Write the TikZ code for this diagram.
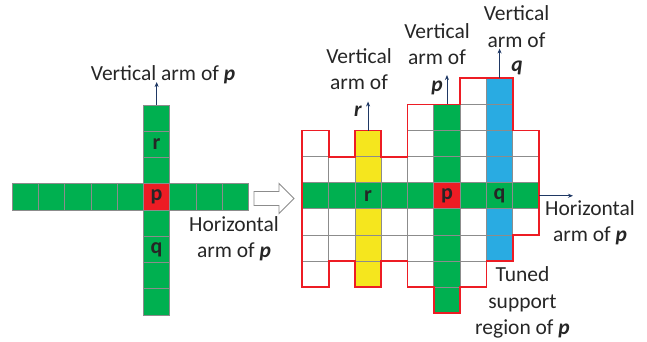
\documentclass[tikz,border=0pt]{standalone}
\usepackage{fontspec}
\setmainfont{Carlito}
\usetikzlibrary{arrows.meta}
\definecolor{cgreen}{HTML}{00B050}
\definecolor{cred}{HTML}{ED1C24}
\definecolor{cyellow}{HTML}{F5E61E}
\definecolor{cblue}{HTML}{29ABE2}
\definecolor{cnavy}{HTML}{1F3864}
\definecolor{ctext}{HTML}{262626}
\definecolor{cgrid}{HTML}{8C8C8C}
\begin{document}
\begin{tikzpicture}[x=1pt,y=-1pt,
  gridcell/.style={draw=cgrid,line width=0.8pt},
  lbl/.style={text=ctext,font=\fontsize{21.5}{26.3}\selectfont,align=center,inner sep=0pt,anchor=base},
  celllbl/.style={text=ctext,font=\fontsize{22}{26}\selectfont\bfseries,inner sep=0pt},
  armarrow/.style={draw=cnavy,line width=0.9pt,-{Stealth[length=5pt,width=4pt]}},
  outline/.style={draw=cred,line width=1.8pt,line join=miter},
  hollow/.style={draw=cgrid,line width=0.9pt,fill=white}]
\useasboundingbox (0,0) rectangle (647,341);
% ---------- left cross ----------
\def\LX{12}\def\LW{26.3}\def\LY{105}\def\LH{26.25}
\foreach \i in {0,...,8}{
  \path[gridcell,fill=cgreen] ({\LX+\LW*\i},{\LY+3*\LH}) rectangle ++(\LW,\LH);
}
\foreach \j in {0,1,2,4,5,6,7}{
  \path[gridcell,fill=cgreen] ({\LX+5*\LW},{\LY+\LH*\j}) rectangle ++(\LW,\LH);
}
\path[gridcell,fill=cred] ({\LX+5*\LW},{\LY+3*\LH}) rectangle ++(\LW,\LH);
\node[celllbl] (lr) at ({\LX+5.5*\LW},{\LY+1.5*\LH}) {r};
\node[celllbl] (lp) at ({\LX+5.5*\LW},{\LY+3.5*\LH}) {p};
\node[celllbl] (lq) at ({\LX+5.5*\LW},{\LY+5.5*\LH}) {q};
\coordinate (lvtop) at ({\LX+5.5*\LW},\LY);
\coordinate (lvtip) at ({\LX+5.5*\LW},82);
\draw[armarrow] (lvtop) -- (lvtip);
\node[lbl] (lvlab) at (163,80.7) {Vertical arm of \textbf{\itshape p}};
\node[lbl] (lhlab) at (234,257.7) {Horizontal\\arm of \textbf{\itshape p}};
% ---------- hollow arrow ----------
\path[hollow] (254,191.5) -- (279,191.5) -- (279,183.5) -- (294,198.5)
  -- (279,213.5) -- (279,205.5) -- (254,205.5) -- cycle;
% ---------- right grid ----------
\def\RX{302.3}\def\RW{26.3}\def\RY{78.3}\def\RH{26.1}
\foreach \c/\a/\b in {0/2/7,1/3/6,2/2/7,3/3/6,4/1/7,5/1/8,6/0/7,7/0/6,8/2/5}{
  \foreach \r in {\a,...,\b}{
    \path[gridcell,fill=white] ({\RX+\RW*\c},{\RY+\RH*\r}) rectangle ++(\RW,\RH);
  }
}
\foreach \r in {2,3,5,6,7}{
  \path[gridcell,fill=cyellow] ({\RX+2*\RW},{\RY+\RH*\r}) rectangle ++(\RW,\RH);
}
\foreach \r in {1,2,3,5,6,7,8}{
  \path[gridcell,fill=cgreen] ({\RX+5*\RW},{\RY+\RH*\r}) rectangle ++(\RW,\RH);
}
\foreach \r in {0,1,2,3,5,6}{
  \path[gridcell,fill=cblue] ({\RX+7*\RW},{\RY+\RH*\r}) rectangle ++(\RW,\RH);
}
\foreach \c in {0,1,2,3,4,6,7,8}{
  \path[gridcell,fill=cgreen] ({\RX+\RW*\c},{\RY+4*\RH}) rectangle ++(\RW,\RH);
}
\path[gridcell,fill=cred] ({\RX+5*\RW},{\RY+4*\RH}) rectangle ++(\RW,\RH);
% red outline (tuned support region)
\draw[outline]
  ({\RX+0*\RW},{\RY+2*\RH}) -- ({\RX+1*\RW},{\RY+2*\RH}) -- ({\RX+1*\RW},{\RY+3*\RH})
  -- ({\RX+2*\RW},{\RY+3*\RH}) -- ({\RX+2*\RW},{\RY+2*\RH}) -- ({\RX+3*\RW},{\RY+2*\RH})
  -- ({\RX+3*\RW},{\RY+3*\RH}) -- ({\RX+4*\RW},{\RY+3*\RH}) -- ({\RX+4*\RW},{\RY+1*\RH})
  -- ({\RX+6*\RW},{\RY+1*\RH}) -- ({\RX+6*\RW},{\RY+0*\RH}) -- ({\RX+8*\RW},{\RY+0*\RH})
  -- ({\RX+8*\RW},{\RY+2*\RH}) -- ({\RX+9*\RW},{\RY+2*\RH}) -- ({\RX+9*\RW},{\RY+6*\RH})
  -- ({\RX+8*\RW},{\RY+6*\RH}) -- ({\RX+8*\RW},{\RY+7*\RH}) -- ({\RX+7*\RW},{\RY+7*\RH})
  -- ({\RX+7*\RW},{\RY+8*\RH}) -- ({\RX+6*\RW},{\RY+8*\RH}) -- ({\RX+6*\RW},{\RY+9*\RH})
  -- ({\RX+5*\RW},{\RY+9*\RH}) -- ({\RX+5*\RW},{\RY+8*\RH}) -- ({\RX+4*\RW},{\RY+8*\RH})
  -- ({\RX+4*\RW},{\RY+7*\RH}) -- ({\RX+3*\RW},{\RY+7*\RH}) -- ({\RX+3*\RW},{\RY+8*\RH})
  -- ({\RX+2*\RW},{\RY+8*\RH}) -- ({\RX+2*\RW},{\RY+7*\RH}) -- ({\RX+1*\RW},{\RY+7*\RH})
  -- ({\RX+1*\RW},{\RY+8*\RH}) -- ({\RX+0*\RW},{\RY+8*\RH}) -- cycle;
\node[celllbl] (rr) at ({\RX+2.5*\RW},{\RY+4.5*\RH}) {r};
\node[celllbl] (rp) at ({\RX+5.5*\RW},{\RY+4.5*\RH}) {p};
\node[celllbl] (rq) at ({\RX+7.5*\RW},{\RY+4.5*\RH}) {q};
% arm arrows
\coordinate (vrtop) at ({\RX+2.5*\RW},{\RY+2*\RH});
\coordinate (vrtip) at ({\RX+2.5*\RW},101.5);
\coordinate (vptop) at ({\RX+5.5*\RW},{\RY+1*\RH});
\coordinate (vptip) at ({\RX+5.5*\RW},75);
\coordinate (vqtop) at ({\RX+7.5*\RW},{\RY+0*\RH});
\coordinate (vqtip) at ({\RX+7.5*\RW},48.5);
\coordinate (hpend) at ({\RX+9*\RW},{\RY+4.5*\RH});
\coordinate (hptip) at (573,{\RY+4.5*\RH});
\draw[armarrow] (vrtop) -- (vrtip);
\draw[armarrow] (vptop) -- (vptip);
\draw[armarrow] (vqtop) -- (vqtip);
\draw[armarrow] (hpend) -- (hptip);
% labels (base anchor = baseline of last line)
\node[lbl] (vrlab) at (359,89.5) {Vertical\\arm of};
\node[lbl] (vrsym) at (358,116) {\textbf{\itshape r}};
\node[lbl] (vplab) at (437,64.5) {Vertical\\arm of};
\node[lbl] (vpsym) at (437,91) {\textbf{\itshape p}};
\node[lbl] (vqlab) at (516.5,47) {Vertical\\arm of};
\node[lbl] (vqsym) at (517,71) {\textbf{\itshape q}};
\node[lbl] (hplab) at (590,241.5) {Horizontal\\arm of \textbf{\itshape p}};
\node[lbl] (tslab) at (522.5,334.3) {Tuned\\support\\region of \textbf{\itshape p}};
\end{tikzpicture}
\end{document}
